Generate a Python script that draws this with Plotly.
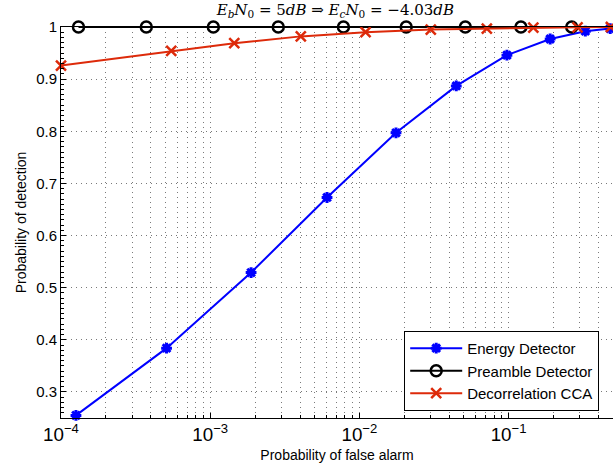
import plotly.graph_objects as go

# Energy detector
ed_pfa = [1.26e-4, 5.1e-4, 1.88e-3, 6.07e-3, 0.0176, 0.0446, 0.0975, 0.19, 0.327, 0.48]
ed_pd = [0.255, 0.384, 0.529, 0.673, 0.797, 0.887, 0.946, 0.977, 0.992, 0.997]

# Preamble detector
pr_pfa = [1.31e-4, 3.73e-4, 1.05e-3, 2.86e-3, 7.82e-3, 0.0206, 0.0513, 0.121, 0.265]
pr_pd = [1.0, 1.0, 1.0, 1.0, 1.0, 1.0, 1.0, 1.0, 1.0]

# Decorrelation CCA
dc_pfa = [1.0e-4, 5.48e-4, 1.45e-3, 4.05e-3, 0.011, 0.0301, 0.0715, 0.1466, 0.29, 0.485]
dc_pd = [0.926, 0.954, 0.969, 0.982, 0.990, 0.995, 0.997, 0.999, 0.9995, 1.0]

y_ticks = [0.3, 0.4, 0.5, 0.6, 0.7, 0.8, 0.9, 1.0]
y_tick_labels = ["0.3", "0.4", "0.5", "0.6", "0.7", "0.8", "0.9", "1"]

BLUE = "#0000FF"
BLACK = "#000000"
RED = "#DD2A0A"

fig = go.Figure()
fig.add_trace(go.Scatter(
    x=ed_pfa, y=ed_pd, mode="lines+markers", name="Energy Detector",
    line=dict(color=BLUE, width=2),
    marker=dict(symbol="asterisk-open", size=9, line=dict(color=BLUE, width=3), color=BLUE),
    cliponaxis=False))
fig.add_trace(go.Scatter(
    x=pr_pfa, y=pr_pd, mode="lines+markers", name="Preamble Detector",
    line=dict(color=BLACK, width=2),
    marker=dict(symbol="circle-open", size=11, line=dict(color=BLACK, width=2.5), color=BLACK),
    cliponaxis=False))
fig.add_trace(go.Scatter(
    x=dc_pfa, y=dc_pd, mode="lines+markers", name="Decorrelation CCA",
    line=dict(color=RED, width=2),
    marker=dict(symbol="x-thin-open", size=10, line=dict(color=RED, width=2.5), color=RED),
    cliponaxis=False))

GRID = dict(showgrid=True, gridcolor="#7a7a7a", griddash="1px,4px", gridwidth=1)

fig.update_layout(
    width=613, height=466,
    margin=dict(l=61, r=0, t=27, b=48),
    paper_bgcolor="white", plot_bgcolor="white",
    font=dict(family="Liberation Sans, Arial, sans-serif", size=14, color="black"),
    showlegend=True,
    legend=dict(
        x=0.975, y=0.018, xanchor="right", yanchor="bottom",
        bordercolor="black", borderwidth=1, bgcolor="white",
        font=dict(size=15), itemwidth=52, tracegroupgap=0,
    ),
    title=dict(
        text="<i>E<sub>b</sub>N</i><sub>0</sub> = 5<i>dB</i> ⇒ <i>E<sub>c</sub>N</i><sub>0</sub> = −4.03<i>dB</i>",
        font=dict(family="DejaVu Serif, Liberation Serif, serif", size=15),
        x=0.547, xanchor="center", y=0.99, yanchor="top",
    ),
)

fig.update_xaxes(
    type="log", range=[-4, -0.3], dtick=1, exponentformat="power",
    showline=True, linecolor="black", linewidth=1, mirror=True,
    ticks="inside", ticklen=5, tickcolor="black",
    minor=dict(ticks="inside", ticklen=3, tickcolor="black", **GRID),
    zeroline=False,
    title=dict(text="Probability of false alarm", standoff=6, font=dict(size=14)),
    tickfont=dict(size=15),
    **GRID,
)
fig.update_yaxes(
    range=[0.25, 1.0], tickvals=y_ticks, ticktext=y_tick_labels,
    showline=True, linecolor="black", linewidth=1, mirror=True,
    ticks="inside", ticklen=5, tickcolor="black",
    minor=dict(ticks="inside", ticklen=3, tickcolor="black", dtick=0.01, showgrid=False),
    zeroline=False,
    title=dict(text="Probability of detection", standoff=6, font=dict(size=14)),
    tickfont=dict(size=15),
    **GRID,
)

fig.write_html(
    "out.html",
    config={"displayModeBar": False},
    post_script="document.body.style.margin='0';document.body.style.overflow='hidden';",
)
